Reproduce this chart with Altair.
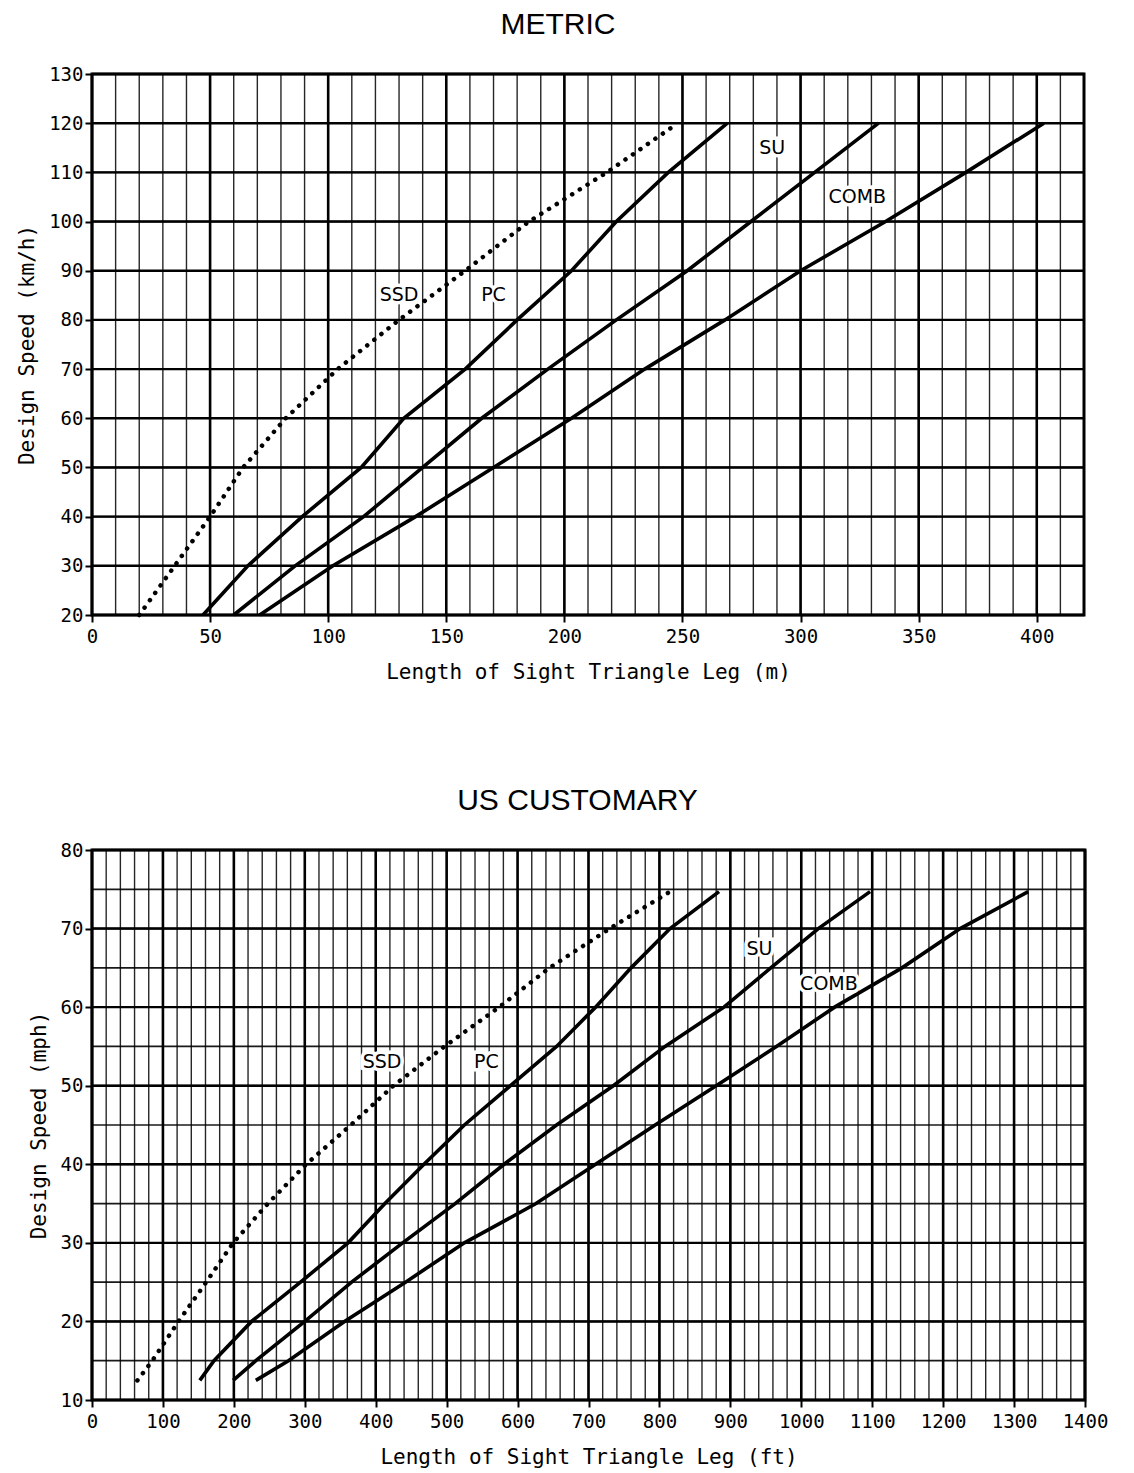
import altair as alt
import pandas as pd

# ---------------- METRIC panel data ----------------
m_speed = [20, 30, 40, 50, 60, 70, 80, 90, 100, 110, 120]
m_ssd = [20, 35, 50, 64, 82, 104, 130, 158, 185, 218, 248]
m_pc = [47, 66, 89, 114, 132, 158, 180, 203, 222, 244, 269]
m_su = [60, 86, 115, 140, 165, 193, 222, 252, 279, 306, 333]
m_comb = [71, 102, 137, 170, 203, 234, 268, 300, 336, 370, 403]

m_label_text = ["SSD", "PC", "SU", "COMB"]
m_label_x = [130, 170, 288, 324]
m_label_y = [85, 85, 115, 105]

m_x_minor = list(range(0, 421, 10))
m_x_major = [0, 50, 100, 150, 200, 250, 300, 350, 400]
m_y_minor = list(range(20, 131, 10))
m_y_major = list(range(20, 131, 10))

# ---------------- US CUSTOMARY panel data ----------------
us_speed = [12.5, 15, 20, 25, 30, 35, 40, 45, 50, 55, 60, 65, 70, 74.7]
us_ssd = [64, 85, 122, 161, 199, 248, 302, 365, 425, 497, 574, 645, 730, 815]
us_pc = [152, 172, 225, 294, 361, 413, 468, 525, 590, 655, 710, 760, 815, 884]
us_su = [199, 231, 300, 366, 438, 512, 581, 655, 735, 808, 891, 957, 1024, 1097]
us_comb = [231, 277, 356, 442, 525, 626, 710, 794, 880, 965, 1047, 1142, 1224, 1320]

us_label_text = ["SSD", "PC", "SU", "COMB"]
us_label_x = [409, 556, 941, 1039]
us_label_y = [53, 53, 67.4, 63]

us_x_minor = list(range(0, 1401, 20))
us_x_major = list(range(0, 1401, 100))
us_y_minor = list(range(10, 81, 5))
us_y_major = list(range(10, 81, 10))

AX_FONT = "DejaVu Sans Mono"


def panel(title, dx_title, speeds, ssd, pc, su, comb, xdom, ydom,
          x_minor, x_major, y_minor, y_major, xtitle, ytitle,
          lab_t, lab_x, lab_y, w, h):
    xs = alt.Scale(domain=xdom, nice=False, zero=False)
    ys = alt.Scale(domain=ydom, nice=False, zero=False)

    xaxis = alt.Axis(values=x_major, title=xtitle, grid=False, labelFlush=False,
                     labelOverlap=False, domain=False, tickColor="black",
                     tickWidth=2, tickSize=7, labelPadding=5, titlePadding=15,
                     format="d")
    yaxis = alt.Axis(values=y_major, title=ytitle, grid=False, labelFlush=False,
                     labelOverlap=False, domain=False, tickColor="black",
                     tickWidth=2, tickSize=7, labelPadding=2, titlePadding=11,
                     format="d")

    def X(f):
        return alt.X(f, scale=xs, axis=xaxis)

    def Y(f):
        return alt.Y(f, scale=ys, axis=yaxis)

    vmin = alt.Chart(pd.DataFrame({"gx": x_minor})).mark_rule(
        color="black", strokeWidth=1.4, opacity=0.85
    ).encode(x=X("gx:Q"))
    vmaj = alt.Chart(pd.DataFrame({"gx": x_major})).mark_rule(
        color="black", strokeWidth=2.6
    ).encode(x=X("gx:Q"))
    hmin = alt.Chart(pd.DataFrame({"gy": y_minor})).mark_rule(
        color="black", strokeWidth=1.7, opacity=0.9
    ).encode(y=Y("gy:Q"))
    hmaj = alt.Chart(pd.DataFrame({"gy": y_major})).mark_rule(
        color="black", strokeWidth=2.4
    ).encode(y=Y("gy:Q"))

    rows = []
    for name, vals in [("PC", pc), ("SU", su), ("COMB", comb)]:
        for s, v in zip(speeds, vals):
            rows.append({"len": v, "spd": s, "series": name})
    solid = pd.DataFrame(rows)
    dotted = pd.DataFrame({"len": ssd, "spd": speeds, "series": "SSD"})

    lines = alt.Chart(solid).mark_line(color="black", strokeWidth=3.6).encode(
        x=X("len:Q"), y=Y("spd:Q"),
        detail="series:N",
        order=alt.Order("spd:Q"),
    )
    dots = alt.Chart(dotted).mark_line(
        color="black", strokeWidth=4.5, strokeDash=[0.1, 9], strokeCap="round"
    ).encode(x=X("len:Q"), y=Y("spd:Q"), order=alt.Order("spd:Q"))
    labs = pd.DataFrame({"t": lab_t, "lx": lab_x, "ly": lab_y})
    halo = alt.Chart(labs).mark_text(
        font="DejaVu Sans", fontSize=19, color="white", stroke="white",
        strokeWidth=7
    ).encode(x=X("lx:Q"), y=Y("ly:Q"), text="t:N")
    txt = alt.Chart(labs).mark_text(
        font="DejaVu Sans", fontSize=19, color="black"
    ).encode(x=X("lx:Q"), y=Y("ly:Q"), text="t:N")

    return alt.layer(vmin, vmaj, hmin, hmaj, dots, lines, halo, txt).properties(
        width=w, height=h,
        title=alt.TitleParams(title, font="Liberation Sans", fontSize=30,
                              fontWeight="normal", color="black",
                              anchor="middle", frame="group", dx=dx_title,
                              offset=25),
    )


top = panel("METRIC", -30, m_speed, m_ssd, m_pc, m_su, m_comb, [0, 420],
            [20, 130], m_x_minor, m_x_major, m_y_minor, m_y_major,
            "Length of Sight Triangle Leg (m)", "Design Speed (km/h)",
            m_label_text, m_label_x, m_label_y, 992, 541)
bottom = panel("US CUSTOMARY", -11, us_speed, us_ssd, us_pc, us_su, us_comb,
               [0, 1400], [10, 80], us_x_minor, us_x_major, us_y_minor,
               us_y_major, "Length of Sight Triangle Leg (ft)",
               "Design Speed (mph)", us_label_text, us_label_x, us_label_y,
               993, 550)

chart = alt.vconcat(top, bottom, spacing=100).configure_view(
    stroke="black", strokeWidth=3
).configure_axis(
    labelFont=AX_FONT, labelFontSize=19, labelColor="black",
    titleFont=AX_FONT, titleFontSize=21, titleColor="black",
    titleFontWeight="normal"
).properties(padding={"left": 7, "top": 0, "right": 5, "bottom": 5})

chart.save("out.html", embed_options={"renderer": "svg", "actions": False})
